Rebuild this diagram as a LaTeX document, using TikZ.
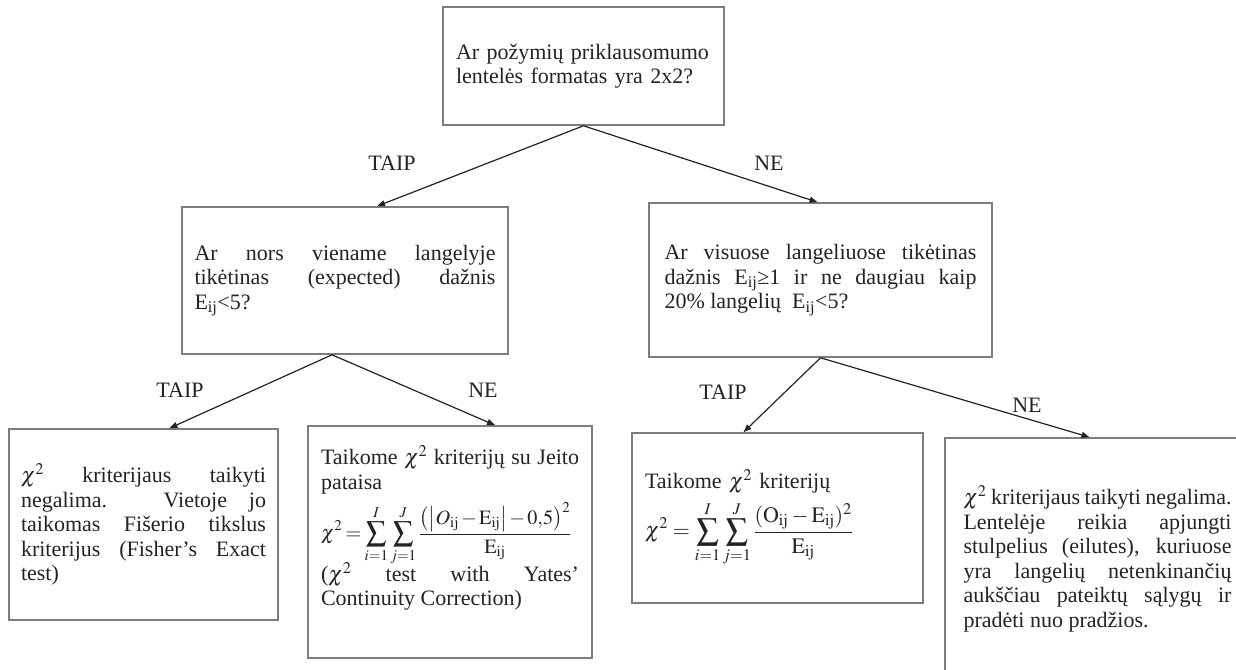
\documentclass[tikz,border=0pt]{standalone}
\usepackage{graphicx}
\usepackage{mathptmx}
\usepackage{fontspec}
\setmainfont{Liberation Serif}
\usepackage{xcolor}
\definecolor{boxgray}{RGB}{125,125,125}
\definecolor{inkgray}{RGB}{35,35,35}
\usetikzlibrary{arrows.meta}

\begin{document}
\begin{tikzpicture}[x=1pt, y=-1pt,
  qbox/.style={rectangle, draw=boxgray, line width=1.6pt, inner sep=0pt,
               font=\fontsize{22}{24.5}\selectfont, text=inkgray},
  arr/.style={-{Triangle[length=8pt,width=6pt]}, line width=1.2pt, draw=inkgray},
  lbl/.style={font=\fontsize{22}{24}\selectfont, text=inkgray}
]
\useasboundingbox (0,0) rectangle (1236,669);
\clip (0,0) rectangle (1236,669);

% Questions
\node[qbox, minimum width=281, minimum height=118, text width=255, align=left] (q1) at (583.5,66)
  {Ar požymių priklausomumo\\lentelės formatas yra 2x2?};

\node[qbox, minimum width=326, minimum height=147, text width=301, align=justify] (q2) at (345,280.5)
  {Ar nors viename langelyje\linebreak tikėtinas (expected) dažnis\linebreak E\textsubscript{ij}<5?};

\node[qbox, minimum width=343, minimum height=154, text width=312, align=justify] (q3) at (820.5,280)
  {Ar visuose langeliuose tikėtinas\linebreak dažnis E\textsubscript{ij}≥1 ir ne daugiau kaip\linebreak 20\% langelių\ \ E\textsubscript{ij}<5?};

% Results
\node[qbox, minimum width=269, minimum height=191, text width=245, align=justify] (r1) at (143.5,524.5)
  {$\chi^{2}$ kriterijaus taikyti\linebreak negalima. Vietoje jo\linebreak taikomas Fišerio tikslus\linebreak kriterijus (Fisher's Exact\linebreak test)};

\node[qbox, minimum width=284, minimum height=232, text width=258, align=justify] (r2) at (450,542)
  {Taikome $\chi^{2}$ kriterijų su Jeito\linebreak pataisa\\[8pt]
   \scalebox{0.92}{\medmuskip=2mu\thickmuskip=3mu
   $\displaystyle \chi^{2}=\sum_{i=1}^{I}\sum_{j=1}^{J}
     \frac{\left(\left|O_{\mathrm{ij}}-\mathrm{E}_{\mathrm{ij}}\right|-0{,}5\right)^{2}}{\mathrm{E}_{\mathrm{ij}}}$}\\[-4pt]
   ($\chi^{2}$ test with Yates'\linebreak Continuity Correction)\par\vspace*{28pt}};

\node[qbox, minimum width=291, minimum height=170, text width=265, align=left] (r3) at (777.5,518)
  {Taikome $\chi^{2}$ kriterijų\\[7pt]
   $\displaystyle \chi^{2}=\sum_{i=1}^{I}\sum_{j=1}^{J}
     \frac{(\mathrm{O}_{\mathrm{ij}}-\mathrm{E}_{\mathrm{ij}})^{2}}{\mathrm{E}_{\mathrm{ij}}}$};

\node[qbox, minimum width=305, minimum height=242, text width=268, align=justify] (r4) at (1097.5,559)
  {$\chi^{2}$ kriterijaus taikyti negalima.\linebreak Lentelėje reikia apjungti\linebreak stulpelius (eilutes), kuriuose\linebreak yra langelių netenkinančių\linebreak aukščiau pateiktų sąlygų ir\linebreak pradėti nuo pradžios.};

% Arrows
\draw[arr] (q1.south) -- ([xshift=32pt]q2.north);
\draw[arr] (q1.south) -- ([xshift=-3pt]q3.north);
\draw[arr] ([xshift=-13pt]q2.south) -- ([xshift=26pt]r1.north);
\draw[arr] ([xshift=-13pt]q2.south) -- ([xshift=45pt]r2.north);
\draw[arr] (q3.south) -- ([xshift=-34pt]r3.north);
\draw[arr] (q3.south) -- ([xshift=-8pt]r4.north);

% Labels
\node[lbl] (yes1) at (392,163) {TAIP};
\node[lbl] (no1)  at (769,163) {NE};
\node[lbl] (yes2) at (180,390) {TAIP};
\node[lbl] (no2)  at (483,390) {NE};
\node[lbl] (yes3) at (723,392) {TAIP};
\node[lbl] (no3)  at (1027,405) {NE};
\end{tikzpicture}
\end{document}
